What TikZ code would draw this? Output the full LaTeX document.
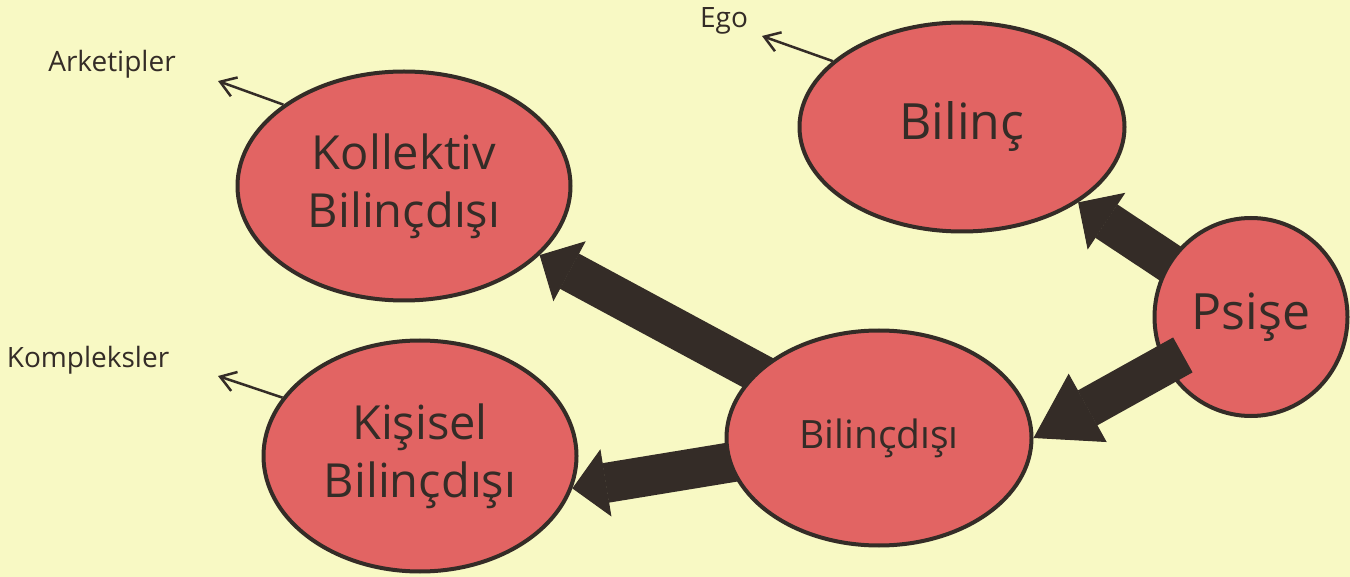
\documentclass[tikz,border=0pt]{standalone}
\usepackage{fontspec}
\setmainfont{Open Sans}
\usetikzlibrary{shapes.geometric,arrows.meta}
\definecolor{bgc}{HTML}{F8F9C4}
\definecolor{bub}{HTML}{E26463}
\definecolor{ink}{HTML}{342C27}
\pgfdeclarelayer{bgl}
\pgfdeclarelayer{arr}
\pgfsetlayers{bgl,arr,main}
\begin{document}
\begin{tikzpicture}[x=1pt,y=-1pt,
  bubble/.style={ellipse,draw=ink,fill=bub,line width=4pt,inner sep=0pt,text=ink,align=center},
  bigtxt/.style={font=\fontsize{47}{58}\selectfont},
  hugetxt/.style={font=\fontsize{50}{60}\selectfont},
  midtxt/.style={font=\fontsize{39}{46}\selectfont},
  fat/.style={draw=ink,line width=40pt},
  thinarrow/.style={draw=ink,line width=2.5pt,-{Straight Barb[length=15pt,width=20pt]}},
  lab/.style={text=ink,font=\fontsize{28}{30}\selectfont,inner sep=0pt,anchor=base}
]
\useasboundingbox (0,0) rectangle (1350,577);
\begin{pgfonlayer}{bgl}
  \fill[bgc] (0,0) rectangle (1350,577);
\end{pgfonlayer}

% nodes
\node[bubble,bigtxt,minimum width=333pt,minimum height=229pt] (kb) at (404,186) {Kollektiv\\Bilinçdışı};
\node[bubble,hugetxt,minimum width=325pt,minimum height=209pt] (bil) at (962,127) {Bilinç};
\node[bubble,hugetxt,minimum width=193pt,minimum height=198pt] (ps) at (1251,317) {Psişe};
\node[bubble,bigtxt,minimum width=313pt,minimum height=231pt] (kis) at (420,456) {Kişisel\\Bilinçdışı};
\node[bubble,midtxt,minimum width=305pt,minimum height=215pt] (bd) at (879,438) {Bilinçdışı};

% labels
\node[lab] (ark) at (112,72) {Arketipler};
\node[lab] (ego) at (724,28) {Ego};
\node[lab] (kom) at (88,367) {Kompleksler};
\coordinate (arkTip) at (218,81);
\coordinate (egoTip) at (762,36);
\coordinate (komTip) at (218,376);

% thick arrows under the bubbles
\begin{pgfonlayer}{arr}
  \draw[fat,-{Triangle[length=34pt,width=68pt,line width=1pt]}] (ps.center) -- (bil.-33);
  \draw[fat,-{Triangle[length=34pt,width=68pt,line width=1pt]}] (bd.center) -- (kb.-27);
  \draw[fat,-{Triangle[length=34pt,width=68pt,line width=1pt]}] (bd.center) -- (kis.-12);
\end{pgfonlayer}

% thick arrow over Psise
\draw[fat,shorten <=78pt,-{Triangle[length=62pt,width=78pt,line width=1pt]}] (ps.center) -- (bd.east);

% thin arrows
\draw[thinarrow] (kb.146) -- (arkTip);
\draw[thinarrow] (bil.153) -- (egoTip);
\draw[thinarrow] (kis.157) -- (komTip);
\end{tikzpicture}
\end{document}
